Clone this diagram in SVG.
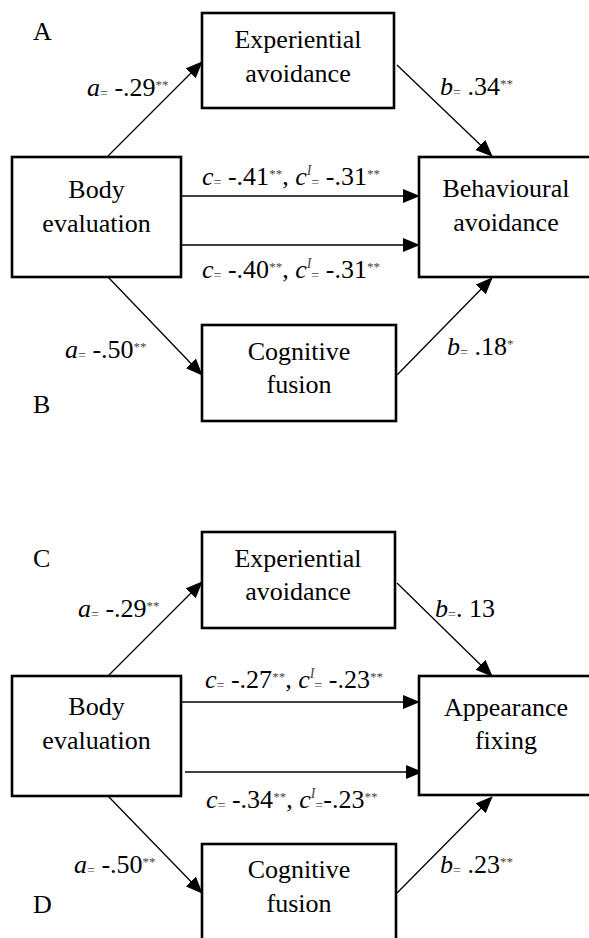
<svg xmlns="http://www.w3.org/2000/svg" width="589" height="938" viewBox="0 0 589 938" font-family="'Liberation Serif', 'DejaVu Serif', serif">
<style>
text, tspan{font-family:'Liberation Serif','DejaVu Serif',serif;fill:#000}
.nt{font-size:26px;text-anchor:middle}
.pl{font-size:26px}
.lab{font-size:26px}
.i{font-style:italic}
.sm{font-size:14px;fill:#444}
.st{font-size:13px;fill:#444}
.box{fill:#fff;stroke:#000;stroke-width:2.6}
.cn{stroke:#000;stroke-width:1.3;fill:none;marker-end:url(#ah)}
</style>
<defs>
<marker id="ah" markerWidth="17" markerHeight="14" refX="16" refY="7" orient="auto" markerUnits="userSpaceOnUse"><path d="M0,0 L17,7 L0,14 z" fill="#000"/></marker>
</defs>
<rect width="589" height="938" fill="#fff"/>
<g id="connectors">
<path class="cn" d="M108,156 L202,62"/>
<path class="cn" d="M397,65 L492,156"/>
<path class="cn" d="M181,196 L419,196"/>
<path class="cn" d="M181,245 L419,245"/>
<path class="cn" d="M108,277 L202,375"/>
<path class="cn" d="M397,375 L492,278"/>
<path class="cn" d="M108,676 L202,582"/>
<path class="cn" d="M397,583 L492,676"/>
<path class="cn" d="M181,702 L419,702"/>
<path class="cn" d="M185,772 L422,772"/>
<path class="cn" d="M108,796 L202,893"/>
<path class="cn" d="M397,893 L492,797"/>
</g>
<g id="ea1"><rect class="box" x="202" y="13" width="192" height="95"/><text class="nt" x="298" y="48">Experiential</text><text class="nt" x="298" y="82">avoidance</text></g>
<g id="be1"><rect class="box" x="12" y="157" width="169" height="120"/><text class="nt" x="96.5" y="198">Body</text><text class="nt" x="96.5" y="232">evaluation</text></g>
<g id="ba1"><rect class="box" x="419" y="157" width="180" height="120"/><text class="nt" x="506" y="197">Behavioural</text><text class="nt" x="506" y="231">avoidance</text></g>
<g id="cf1"><rect class="box" x="202" y="325" width="194" height="96"/><text class="nt" x="299" y="360">Cognitive</text><text class="nt" x="299" y="393">fusion</text></g>
<g id="ea2"><rect class="box" x="202" y="532" width="193" height="96"/><text class="nt" x="298" y="567">Experiential</text><text class="nt" x="298" y="600">avoidance</text></g>
<g id="be2"><rect class="box" x="12" y="676" width="169" height="120"/><text class="nt" x="96.5" y="715">Body</text><text class="nt" x="96.5" y="749">evaluation</text></g>
<g id="af2"><rect class="box" x="419" y="676" width="180" height="119"/><text class="nt" x="506" y="716">Appearance</text><text class="nt" x="506" y="749">fixing</text></g>
<g id="cf2"><rect class="box" x="202" y="844" width="194" height="110"/><text class="nt" x="299" y="878">Cognitive</text><text class="nt" x="299" y="912">fusion</text></g>
<g id="letters">
<text class="pl" x="33" y="40">A</text>
<text class="pl" x="33" y="413">B</text>
<text class="pl" x="33" y="567">C</text>
<text class="pl" x="33" y="913">D</text>
</g>
<g id="labels">
<text class="lab" x="87" y="96"><tspan class="i">a</tspan><tspan class="sm" dy="2">=</tspan><tspan dy="-2"> -.29</tspan><tspan class="st" dy="-7">**</tspan></text>
<text class="lab" x="440" y="95"><tspan class="i">b</tspan><tspan class="sm" dy="2">=</tspan><tspan dy="-2"> .34</tspan><tspan class="st" dy="-7">**</tspan></text>
<text class="lab" x="202" y="185"><tspan class="i">c</tspan><tspan class="sm" dy="2">=</tspan><tspan dy="-2"> -.41</tspan><tspan class="st" dy="-7">**</tspan><tspan dy="7">, </tspan><tspan class="i">c</tspan><tspan class="sm i" dy="-10">I</tspan><tspan class="sm" dy="12">=</tspan><tspan dy="-2"> -.31</tspan><tspan class="st" dy="-7">**</tspan></text>
<text class="lab" x="202" y="278"><tspan class="i">c</tspan><tspan class="sm" dy="2">=</tspan><tspan dy="-2"> -.40</tspan><tspan class="st" dy="-7">**</tspan><tspan dy="7">, </tspan><tspan class="i">c</tspan><tspan class="sm i" dy="-10">I</tspan><tspan class="sm" dy="12">=</tspan><tspan dy="-2"> -.31</tspan><tspan class="st" dy="-7">**</tspan></text>
<text class="lab" x="65" y="358"><tspan class="i">a</tspan><tspan class="sm" dy="2">=</tspan><tspan dy="-2"> -.50</tspan><tspan class="st" dy="-7">**</tspan></text>
<text class="lab" x="447" y="355"><tspan class="i">b</tspan><tspan class="sm" dy="2">=</tspan><tspan dy="-2"> .18</tspan><tspan class="st" dy="-7">*</tspan></text>
<text class="lab" x="78" y="617"><tspan class="i">a</tspan><tspan class="sm" dy="2">=</tspan><tspan dy="-2"> -.29</tspan><tspan class="st" dy="-7">**</tspan></text>
<text class="lab" x="435" y="617"><tspan class="i">b</tspan><tspan class="sm" dy="2">=</tspan><tspan dy="-2">. 13</tspan></text>
<text class="lab" x="205" y="688"><tspan class="i">c</tspan><tspan class="sm" dy="2">=</tspan><tspan dy="-2"> -.27</tspan><tspan class="st" dy="-7">**</tspan><tspan dy="7">, </tspan><tspan class="i">c</tspan><tspan class="sm i" dy="-10">I</tspan><tspan class="sm" dy="12">=</tspan><tspan dy="-2"> -.23</tspan><tspan class="st" dy="-7">**</tspan></text>
<text class="lab" x="206" y="808"><tspan class="i">c</tspan><tspan class="sm" dy="2">=</tspan><tspan dy="-2"> -.34</tspan><tspan class="st" dy="-7">**</tspan><tspan dy="7">, </tspan><tspan class="i">c</tspan><tspan class="sm i" dy="-10">I</tspan><tspan class="sm" dy="12">=</tspan><tspan dy="-2">-.23</tspan><tspan class="st" dy="-7">**</tspan></text>
<text class="lab" x="74" y="873"><tspan class="i">a</tspan><tspan class="sm" dy="2">=</tspan><tspan dy="-2"> -.50</tspan><tspan class="st" dy="-7">**</tspan></text>
<text class="lab" x="440" y="873"><tspan class="i">b</tspan><tspan class="sm" dy="2">=</tspan><tspan dy="-2"> .23</tspan><tspan class="st" dy="-7">**</tspan></text>
</g>
</svg>
